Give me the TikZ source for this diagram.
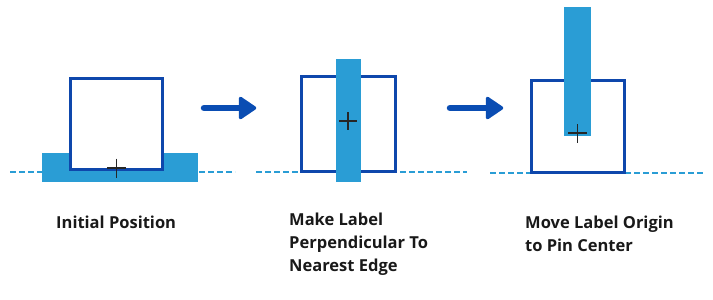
\documentclass[tikz,border=0pt]{standalone}
\usepackage{fontspec}
\setmainfont{Open Sans}
\begin{document}
\begin{tikzpicture}[x=1pt,y=-1pt,
  labelbar/.style={fill=barblue,draw=none},
  pinbox/.style={draw=boxblue,line width=3pt,fill=white},
  baseline/.style={draw=barblue,line width=1.6pt,dash pattern=on 6pt off 3pt},
  crossmark/.style={draw=black!85,line width=1.7pt},
  stepshaft/.style={draw=arrowblue,line width=6.5pt,line cap=round},
  stephead/.style={fill=arrowblue,draw=arrowblue,line width=3.5pt,line join=round},
  caption/.style={font=\fontsize{16.5}{23.35}\selectfont\bfseries,text=black!90,
    align=left,inner sep=0pt,anchor=base west}]
\definecolor{barblue}{HTML}{2A9DD5}
\definecolor{boxblue}{HTML}{0E47AC}
\definecolor{arrowblue}{HTML}{0A4DB3}
\useasboundingbox (0,0) rectangle (713,300);

% panel 1: initial position
\draw[baseline] (10,172) -- (235,172);
\fill[labelbar] (42,153) rectangle (198,182);
\draw[pinbox] (70,78) rectangle (162,169);
\draw[crossmark] (107,168) -- (126,168) (116.5,158.5) -- (116.5,177.5);

% step arrow 1
\coordinate (a1s) at (204,108);
\coordinate (a1e) at (240,108);
\draw[stepshaft] (a1s) -- (a1e);
\filldraw[stephead] (240.5,98.5) -- (254.5,108) -- (240.5,117.5) -- cycle;

% panel 2: label perpendicular to nearest edge
\draw[baseline] (256,172) -- (467,172);
\draw[pinbox] (301,76) rectangle (395,171);
\fill[labelbar] (336,59) rectangle (361,182);
\draw[crossmark] (339,121) -- (357,121) (348,112) -- (348,130);

% step arrow 2
\coordinate (a2s) at (450,108);
\coordinate (a2e) at (487,108);
\draw[stepshaft] (a2s) -- (a2e);
\filldraw[stephead] (487.5,98.5) -- (501.5,108) -- (487.5,117.5) -- cycle;

% panel 3: label origin moved to pin center
\draw[baseline] (490,173) -- (703,173);
\draw[pinbox] (531,80) rectangle (624,172);
\fill[labelbar] (564,7) rectangle (591,136);
\draw[crossmark] (568,133) -- (587,133) (577.5,124) -- (577.5,143);

% captions (multi-line nodes sit on the baseline of their last line)
\node[caption] (c1) at (56,228.3) {Initial Position};
\node[caption] (c2) at (289,271.7) {Make Label\\Perpendicular To\\Nearest Edge};
\node[caption] (c3) at (525,251.7) {Move Label Origin\\to Pin Center};
\end{tikzpicture}
\end{document}
